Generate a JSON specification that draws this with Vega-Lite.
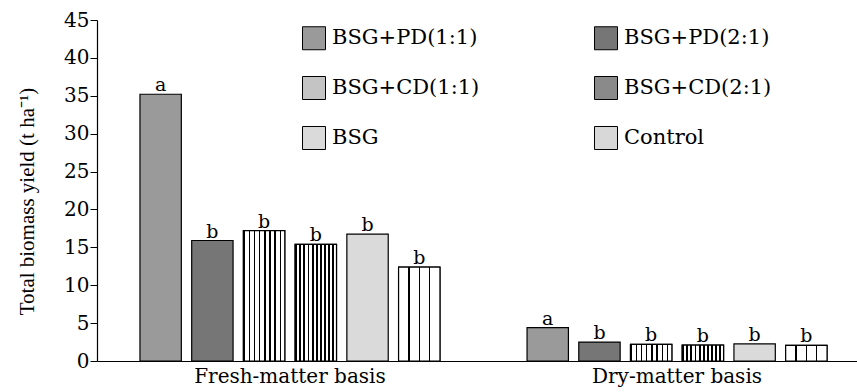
{
  "$schema": "https://vega.github.io/schema/vega-lite/v6.json",
  "width": 760,
  "height": 341,
  "autosize": {"type": "none"},
  "padding": {"left": 97, "top": 20, "right": 0, "bottom": 31},
  "background": "white",
  "params": [
    {"name": "cd11", "value": {"gradient": "linear", "x1": 0, "y1": 0, "x2": 1, "y2": 0, "stops": [
      {"offset": 0, "color": "black"}, {"offset": 0.035, "color": "black"}, {"offset": 0.035, "color": "white"}, {"offset": 0.125, "color": "white"},
      {"offset": 0.125, "color": "black"}, {"offset": 0.16, "color": "black"}, {"offset": 0.16, "color": "white"}, {"offset": 0.25, "color": "white"},
      {"offset": 0.25, "color": "black"}, {"offset": 0.285, "color": "black"}, {"offset": 0.285, "color": "white"}, {"offset": 0.375, "color": "white"},
      {"offset": 0.375, "color": "black"}, {"offset": 0.41, "color": "black"}, {"offset": 0.41, "color": "white"}, {"offset": 0.5, "color": "white"},
      {"offset": 0.5, "color": "black"}, {"offset": 0.535, "color": "black"}, {"offset": 0.535, "color": "white"}, {"offset": 0.625, "color": "white"},
      {"offset": 0.625, "color": "black"}, {"offset": 0.66, "color": "black"}, {"offset": 0.66, "color": "white"}, {"offset": 0.75, "color": "white"},
      {"offset": 0.75, "color": "black"}, {"offset": 0.785, "color": "black"}, {"offset": 0.785, "color": "white"}, {"offset": 0.875, "color": "white"},
      {"offset": 0.875, "color": "black"}, {"offset": 0.91, "color": "black"}, {"offset": 0.91, "color": "white"}, {"offset": 1, "color": "white"}
    ]}},
    {"name": "cd21", "value": {"gradient": "linear", "x1": 0, "y1": 0, "x2": 1, "y2": 0, "stops": [
      {"offset": 0, "color": "black"}, {"offset": 0.045, "color": "black"}, {"offset": 0.045, "color": "white"}, {"offset": 0.1, "color": "white"},
      {"offset": 0.1, "color": "black"}, {"offset": 0.145, "color": "black"}, {"offset": 0.145, "color": "white"}, {"offset": 0.2, "color": "white"},
      {"offset": 0.2, "color": "black"}, {"offset": 0.245, "color": "black"}, {"offset": 0.245, "color": "white"}, {"offset": 0.3, "color": "white"},
      {"offset": 0.3, "color": "black"}, {"offset": 0.345, "color": "black"}, {"offset": 0.345, "color": "white"}, {"offset": 0.4, "color": "white"},
      {"offset": 0.4, "color": "black"}, {"offset": 0.445, "color": "black"}, {"offset": 0.445, "color": "white"}, {"offset": 0.5, "color": "white"},
      {"offset": 0.5, "color": "black"}, {"offset": 0.545, "color": "black"}, {"offset": 0.545, "color": "white"}, {"offset": 0.6, "color": "white"},
      {"offset": 0.6, "color": "black"}, {"offset": 0.645, "color": "black"}, {"offset": 0.645, "color": "white"}, {"offset": 0.7, "color": "white"},
      {"offset": 0.7, "color": "black"}, {"offset": 0.745, "color": "black"}, {"offset": 0.745, "color": "white"}, {"offset": 0.8, "color": "white"},
      {"offset": 0.8, "color": "black"}, {"offset": 0.845, "color": "black"}, {"offset": 0.845, "color": "white"}, {"offset": 0.9, "color": "white"},
      {"offset": 0.9, "color": "black"}, {"offset": 0.945, "color": "black"}, {"offset": 0.945, "color": "white"}, {"offset": 1, "color": "white"}
    ]}},
    {"name": "ctrl", "value": {"gradient": "linear", "x1": 0, "y1": 0, "x2": 1, "y2": 0, "stops": [
      {"offset": 0, "color": "white"}, {"offset": 0.235, "color": "white"}, {"offset": 0.235, "color": "black"}, {"offset": 0.265, "color": "black"},
      {"offset": 0.265, "color": "white"}, {"offset": 0.485, "color": "white"}, {"offset": 0.485, "color": "black"}, {"offset": 0.515, "color": "black"},
      {"offset": 0.515, "color": "white"}, {"offset": 0.735, "color": "white"}, {"offset": 0.735, "color": "black"}, {"offset": 0.765, "color": "black"},
      {"offset": 0.765, "color": "white"}, {"offset": 1, "color": "white"}
    ]}}
  ],
  "config": {
    "view": {"stroke": null},
    "font": "DejaVu Serif",
    "axis": {"labelFont": "DejaVu Serif", "titleFont": "Liberation Serif"},
    "legend": {
      "orient": "none",
      "legendX": 205,
      "legendY": 6,
      "direction": "horizontal",
      "columns": 2,
      "columnPadding": 112,
      "rowPadding": 22,
      "symbolType": "square",
      "symbolSize": 529,
      "symbolStrokeColor": "black",
      "symbolStrokeWidth": 1,
      "labelFont": "DejaVu Serif",
      "labelFontSize": 21,
      "labelColor": "black",
      "labelOffset": 6,
      "labelLimit": 300
    }
  },
  "data": {
    "values": [
      {"basis": "Fresh-matter basis", "treatment": "BSG+PD(1:1)", "yield": 35.2, "letter": "a"},
      {"basis": "Fresh-matter basis", "treatment": "BSG+PD(2:1)", "yield": 15.9, "letter": "b"},
      {"basis": "Fresh-matter basis", "treatment": "BSG+CD(1:1)", "yield": 17.2, "letter": "b"},
      {"basis": "Fresh-matter basis", "treatment": "BSG+CD(2:1)", "yield": 15.4, "letter": "b"},
      {"basis": "Fresh-matter basis", "treatment": "BSG", "yield": 16.75, "letter": "b"},
      {"basis": "Fresh-matter basis", "treatment": "Control", "yield": 12.4, "letter": "b"},
      {"basis": "Dry-matter basis", "treatment": "BSG+PD(1:1)", "yield": 4.4, "letter": "a"},
      {"basis": "Dry-matter basis", "treatment": "BSG+PD(2:1)", "yield": 2.5, "letter": "b"},
      {"basis": "Dry-matter basis", "treatment": "BSG+CD(1:1)", "yield": 2.2, "letter": "b"},
      {"basis": "Dry-matter basis", "treatment": "BSG+CD(2:1)", "yield": 2.1, "letter": "b"},
      {"basis": "Dry-matter basis", "treatment": "BSG", "yield": 2.25, "letter": "b"},
      {"basis": "Dry-matter basis", "treatment": "Control", "yield": 2.05, "letter": "b"}
    ]
  },
  "encoding": {
    "x": {
      "field": "basis",
      "type": "nominal",
      "sort": ["Fresh-matter basis", "Dry-matter basis"],
      "scale": {"range": [0, 773], "paddingInner": 0.225, "paddingOuter": 0.111},
      "axis": {
        "title": null,
        "labelAngle": 0,
        "ticks": false,
        "domainColor": "black",
        "domainWidth": 1.2,
        "labelFontSize": 20,
        "labelColor": "black",
        "labelPadding": 5,
        "labelDx": 6,
        "labelLimit": 400,
        "labelOverlap": false
      }
    },
    "xOffset": {
      "field": "treatment",
      "type": "nominal",
      "scale": {"domain": ["BSG+PD(1:1)", "BSG+PD(2:1)", "BSG+CD(1:1)", "BSG+CD(2:1)", "BSG", "Control"], "paddingInner": 0.2, "paddingOuter": 0}
    },
    "y": {
      "field": "yield",
      "type": "quantitative",
      "scale": {"domain": [0, 45], "nice": false},
      "axis": {
        "title": "Total biomass yield (t ha⁻¹)",
        "titleFontSize": 21,
        "titleFontWeight": "normal",
        "titleColor": "black",
        "titlePadding": 26,
        "titleY": 181,
        "values": [0, 5, 10, 15, 20, 25, 30, 35, 40, 45],
        "labelFontSize": 20,
        "labelColor": "black",
        "labelPadding": 1,
        "tickSize": 7,
        "tickColor": "black",
        "domainColor": "black",
        "domainWidth": 1.2,
        "grid": false
      }
    }
  },
  "layer": [
    {
      "mark": {"type": "bar", "stroke": "black", "strokeWidth": 1.2},
      "encoding": {
        "fill": {
          "field": "treatment",
          "type": "nominal",
          "scale": {
            "domain": ["BSG+PD(1:1)", "BSG+PD(2:1)", "BSG+CD(1:1)", "BSG+CD(2:1)", "BSG", "Control"],
            "range": ["#9a9a9a", "#767676", "#c4c4c4", "#8a8a8a", "#dadada", "#d8d8d8"]
          },
          "legend": {"title": null}
        }
      }
    },
    {
      "transform": [{"filter": "datum.treatment === 'BSG+CD(1:1)'"}],
      "mark": {"type": "bar", "stroke": "black", "strokeWidth": 1.2, "fill": {"expr": "cd11"}},
      "encoding": {}
    },
    {
      "transform": [{"filter": "datum.treatment === 'BSG+CD(2:1)'"}],
      "mark": {"type": "bar", "stroke": "black", "strokeWidth": 1.2, "fill": {"expr": "cd21"}},
      "encoding": {}
    },
    {
      "transform": [{"filter": "datum.treatment === 'Control'"}],
      "mark": {"type": "bar", "stroke": "black", "strokeWidth": 1.2, "fill": {"expr": "ctrl"}},
      "encoding": {}
    },
    {
      "mark": {"type": "text", "baseline": "alphabetic", "dy": -3, "fontSize": 19, "font": "DejaVu Serif", "color": "black"},
      "encoding": {
        "text": {"field": "letter", "type": "nominal"}
      }
    }
  ]
}
